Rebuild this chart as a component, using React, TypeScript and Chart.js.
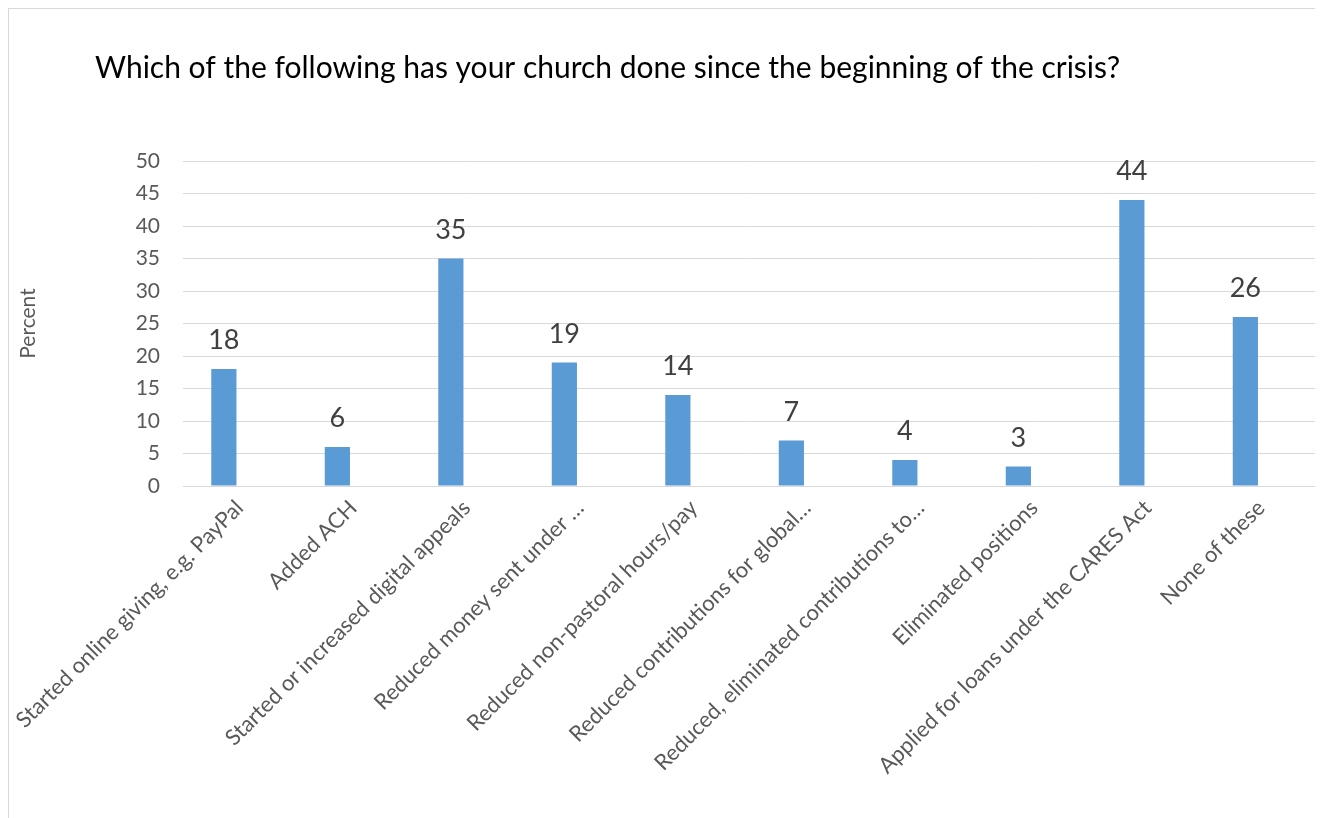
import React, { useEffect, useRef } from "react";
import { Chart, registerables } from "chart.js";

Chart.register(...registerables);

const chartTitle = "Which of the following has your church done since the beginning of the crisis?";
const yAxisTitle = "Percent";
const categories = [
  "Started online giving, e.g. PayPal",
  "Added ACH",
  "Started or increased digital appeals",
  "Reduced money sent under …",
  "Reduced non-pastoral hours/pay",
  "Reduced contributions for global…",
  "Reduced, eliminated contributions to…",
  "Eliminated positions",
  "Applied for loans under the CARES Act",
  "None of these",
];
const percentValues = [18, 6, 35, 19, 14, 7, 4, 3, 44, 26];
const yMin = 0;
const yMax = 50;
const yStep = 5;
// range of the hidden bar-position axis (bars sit slightly left of the label slots, as in the original)
const barAxisMin = -0.36;
const barAxisMax = 9.64;

const FONT = "Lato, 'Open Sans', sans-serif";

const titlePlugin = {
  id: "leftTitle",
  afterDraw(chart: any) {
    const ctx = chart.ctx;
    ctx.save();
    ctx.font = `30px ${FONT}`;
    ctx.fillStyle = "#000000";
    ctx.textAlign = "left";
    ctx.textBaseline = "alphabetic";
    ctx.fillText(chartTitle, chart.chartArea.left - 88, 69);
    ctx.restore();
  },
};

const valueLabelPlugin = {
  id: "valueLabels",
  afterDatasetsDraw(chart: any) {
    const ctx = chart.ctx;
    const meta = chart.getDatasetMeta(0);
    ctx.save();
    ctx.font = `27px ${FONT}`;
    ctx.fillStyle = "#404040";
    ctx.textAlign = "center";
    ctx.textBaseline = "alphabetic";
    meta.data.forEach((bar: any, i: number) => {
      ctx.fillText(String(percentValues[i]), bar.x, bar.y - 20);
    });
    ctx.restore();
  },
};

export default function App() {
  const canvasRef = useRef<HTMLCanvasElement | null>(null);

  useEffect(() => {
    if (!canvasRef.current) return;
    const chart = new Chart(canvasRef.current, {
      type: "bar",
      data: {
        labels: categories,
        datasets: [
          {
            label: yAxisTitle,
            data: percentValues.map((v, i) => ({ x: i, y: v })),
            xAxisID: "xb",
            backgroundColor: "#5b9bd5",
            borderWidth: 0,
            categoryPercentage: 1,
            barPercentage: 0.222,
          },
        ],
      },
      options: {
        animation: false,
        responsive: false,
        maintainAspectRatio: false,
        layout: { padding: { left: 0, right: 3, top: 152, bottom: 0 } },
        plugins: {
          legend: { display: false },
          title: { display: false },
          tooltip: { enabled: false },
        },
        scales: {
          x: {
            type: "category",
            labels: categories,
            offset: true,
            grid: { display: false, drawTicks: false },
            border: { display: true, color: "#d9d9d9", width: 1 },
            ticks: {
              minRotation: 45,
              maxRotation: 45,
              autoSkip: false,
              padding: 9,
              color: "#595959",
              font: { family: FONT, size: 22 },
            },
            afterFit(scale: any) {
              scale.height = 333;
              scale.paddingLeft = 0;
              scale.paddingRight = 0;
            },
          },
          xb: {
            type: "linear",
            position: "bottom",
            display: false,
            offset: false,
            bounds: "data",
            min: barAxisMin,
            max: barAxisMax,
            grace: 0,
            ticks: { stepSize: 1 },
            grid: { display: false },
            afterFit(scale: any) {
              scale.height = 0;
              scale.paddingLeft = 0;
              scale.paddingRight = 0;
            },
          },
          y: {
            min: yMin,
            max: yMax,
            grid: { color: "#d9d9d9", lineWidth: 1, drawTicks: false },
            border: { display: false },
            ticks: {
              stepSize: yStep,
              padding: 23,
              color: "#595959",
              font: { family: FONT, size: 21 },
            },
            title: {
              display: true,
              text: yAxisTitle,
              color: "#595959",
              font: { family: FONT, size: 21 },
              padding: { top: 7, bottom: 0 },
            },
            afterFit(scale: any) {
              scale.width = 174;
            },
          },
        },
      },
      plugins: [titlePlugin, valueLabelPlugin],
    });
    return () => chart.destroy();
  }, []);

  return (
    <div
      style={{
        width: 1312,
        height: 830,
        border: "1px solid #d9d9d9",
        borderRight: "2px solid #d9d9d9",
        boxSizing: "content-box",
        background: "#ffffff",
      }}
    >
      <canvas ref={canvasRef} width={1312} height={810} style={{ display: "block" }} />
    </div>
  );
}
